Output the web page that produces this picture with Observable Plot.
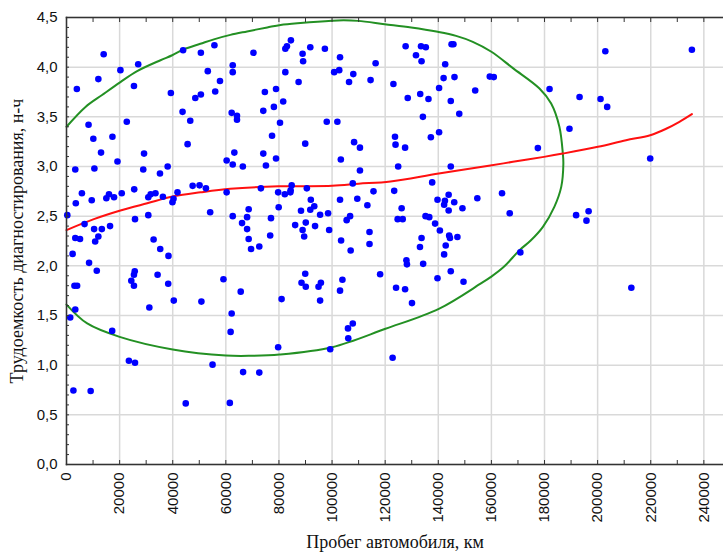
<!DOCTYPE html>
<html><head><meta charset="utf-8">
<script src="https://cdn.jsdelivr.net/npm/d3@7"></script>
<script src="https://cdn.jsdelivr.net/npm/@observablehq/plot@0.6"></script>
<style>
html,body{margin:0;padding:0;background:#fff;}
#chart{width:723px;height:555px;}
</style></head><body><div id="chart"></div>
<script>
// Scatter data: mileage (km) and diagnostic labour (man-hours)
const mileage = [
  300,3900,14000,12000,8300,10100,13000,10500,3300,3500,
  5800,6800,9500,10400,3300,5100,10800,12000,13300,16400,
  15000,16000,17900,20800,17300,19200,20300,22700,25400,27000,
  25500,25800,29200,28900,30800,31700,30800,33500,32800,35200,
  36300,38100,35300,39300,39900,40300,41800,43900,43700,46600,
  45600,47500,48500,50600,50100,50600,52500,53200,54100,55700,
  56000,57800,60300,60300,62600,62600,62200,64200,64200,63200,
  62600,62600,66400,66100,68000,68600,68000,68600,
  2300,3000,4000,3300,1400,2600,9100,8500,11400,17200,
  24400,25400,25700,25400,23500,25800,38400,34300,38300,40400,
  31200,44900,50800,55000,59100,62200,61800,61500,65600,66500,
  69500,72600,70400,74700,78900,74100,78100,81600,80400,82400,
  83000,84500,82400,77400,74100,75100,78900,88900,89100,91800,
  87400,89900,97300,98000,102000,100800,102700,103000,106400,108000,
  108300,110500,103300,110500,116400,114500,84800,73200,79700,82200,
  84400,84300,90500,92000,93300,91800,88300,95500,98500,77000,
  79900,86100,90100,93600,88900,89500,98900,76700,103000,107800,
  109500,113300,115600,105500,106800,103400,114100,114100,107000,123100,
  127700,131600,133700,133500,135300,128500,133200,136300,134200,123700,
  123900,127500,137200,140300,124900,137700,123400,126200,139700,142200,
  142500,143900,143900,146000,149100,154700,124700,126600,135200,136600,
  138800,140600,133700,133100,144400,144100,147200,142800,145000,145700,
  142600,142000,146100,140300,144700,147900,144700,153900,159400,160900,
  164000,166900,177500,181900,189400,193200,201100,203600,202900,235500,
  219800,191900,195800,196600,170900,212700,
  72600,81000,79700,88500,89900,90100,94900,95800,95500,99300,
  103000,103900,106000,106100,107800,118100,122800,124100,127500,128000,
  128200,130100,134300,139700,142200,144700,149500
];
const laborHours = [
  2.51,3.78,4.13,3.88,3.42,3.28,3.14,2.98,2.97,2.63,
  2.73,2.42,2.66,2.37,2.28,2.27,2.245,2.295,2.37,2.40,
  2.68,2.72,2.69,2.73,3.30,3.05,3.97,3.45,3.81,4.03,
  2.77,2.47,3.13,2.97,2.69,2.72,2.51,2.73,2.265,2.93,
  2.695,3.00,2.17,3.74,2.64,2.675,2.74,4.17,3.55,3.46,
  3.225,2.805,3.69,3.725,2.81,4.145,2.78,3.96,2.54,4.22,
  3.755,3.86,3.06,2.74,4.02,3.95,3.54,3.51,3.47,3.14,
  3.02,2.50,3.00,2.43,2.49,2.57,2.37,2.27,
  2.12,1.80,1.80,1.56,1.48,0.745,0.74,2.03,1.95,1.345,
  1.85,1.91,1.945,1.80,1.045,1.025,2.10,1.91,1.82,1.65,
  1.58,0.615,1.64,1.005,1.865,1.52,1.335,0.62,1.74,0.93,
  2.17,2.195,4.145,3.75,3.78,3.56,3.60,3.655,3.44,4.185,
  4.21,4.27,3.95,3.31,3.13,3.01,3.08,4.135,4.06,4.20,
  3.85,3.23,4.185,3.45,3.45,3.95,3.97,4.10,3.85,3.93,
  3.245,3.19,3.07,2.96,4.04,3.87,2.81,2.78,2.74,2.72,
  2.76,2.74,2.78,2.665,2.60,2.565,2.555,2.515,2.53,2.48,
  2.59,2.41,2.435,2.40,2.36,2.295,2.36,2.305,2.665,2.83,
  2.675,2.61,2.75,2.46,2.50,2.255,2.34,2.22,2.155,3.83,
  4.21,4.12,4.06,4.21,4.20,3.69,3.73,3.68,3.50,3.30,
  3.22,3.19,3.295,3.345,3.00,2.84,2.755,2.58,2.665,2.615,
  2.655,2.715,2.557,2.64,2.58,2.68,2.47,2.47,2.50,2.49,
  2.425,2.355,2.28,2.19,2.28,2.305,2.29,2.205,4.23,4.23,
  4.03,3.89,3.90,3.79,3.66,3.53,3.00,3.765,3.905,3.90,
  2.73,2.53,3.185,3.78,3.38,3.70,3.68,3.60,4.16,4.175,
  3.08,2.51,2.455,2.55,2.135,1.78,
  0.925,1.665,1.18,1.83,1.92,1.79,1.79,1.83,1.65,1.16,
  1.75,1.86,1.37,1.27,1.42,1.915,1.075,1.78,1.765,2.055,
  2.015,1.625,2.02,1.875,2.115,1.945,1.84
];

// Smoothed trend (red)
const trendKm = [0,10300,20300,30400,40400,50500,61700,79900,100000,110000,122000,140200,159600,168100,179800,186900,200100,210700,219800,225800,230800,235500];
const trendHours = [2.36,2.47,2.557,2.63,2.70,2.74,2.775,2.80,2.805,2.826,2.85,2.93,3.01,3.047,3.097,3.13,3.198,3.265,3.315,3.38,3.45,3.527];

// Confidence ellipse (green)
const ellipseKm = [0,7150,13400,20300,26600,35400,39800,44200,50400,55500,61700,68000,75600,80600,88100,100000,104400,109800,119800,129800,139800,146700,153000,160000,168100,178100,182500,185600,186900,187100,186300,183700,179400,174800,170600,164700,159700,155900,140200,120100,100000,80200,69300,60000,40000,20000,7800,0];
const ellipseHours = [3.40,3.60,3.72,3.85,3.96,4.07,4.12,4.18,4.235,4.28,4.325,4.36,4.40,4.425,4.445,4.468,4.472,4.466,4.433,4.40,4.356,4.315,4.255,4.155,3.99,3.785,3.634,3.40,3.13,3.03,2.795,2.594,2.393,2.255,2.158,1.99,1.886,1.82,1.567,1.366,1.181,1.107,1.094,1.097,1.158,1.285,1.42,1.61];

// Ticks
const xMajorTicks = [0,20000,40000,60000,80000,100000,120000,140000,160000,180000,200000,220000,240000];
const xMinorTicks = [0,10000,20000,30000,40000,50000,60000,70000,80000,90000,100000,110000,120000,130000,140000,150000,160000,170000,180000,190000,200000,210000,220000,230000,240000];
const yMajorTicks = [0,0.5,1,1.5,2,2.5,3,3.5,4,4.5];
const yMinorTicks = [0,0.1,0.2,0.3,0.4,0.5,0.6,0.7,0.8,0.9,1,1.1,1.2,1.3,1.4,1.5,1.6,1.7,1.8,1.9,2,2.1,2.2,2.3,2.4,2.5,2.6,2.7,2.8,2.9,3,3.1,3.2,3.3,3.4,3.5,3.6,3.7,3.8,3.9,4,4.1,4.2,4.3,4.4,4.5];

const xTitle = "Пробег автомобиля, км";
const yTitle = "Трудоемкость диагностирования, н-ч";

const points = mileage.map((km, i) => ({km, h: laborHours[i]}));
const trend = trendKm.map((km, i) => ({km, h: trendHours[i]}));
const ellipse = ellipseKm.map((km, i) => ({km, h: ellipseHours[i]}));

const axisColor = "#333";
const sans = "'Liberation Sans', Arial, sans-serif";
const serif = "'Liberation Serif', 'Times New Roman', serif";

const chart = Plot.plot({
  width: 723, height: 555,
  marginLeft: 66, marginRight: 0, marginTop: 17, marginBottom: 91,
  style: {fontFamily: sans, background: "#fff", color: "#111"},
  x: {domain: [0, 247400], label: null},
  y: {domain: [0, 4.5], label: null},
  marks: [
    Plot.gridX(xMajorTicks, {stroke: "#d9d9d9", strokeOpacity: 1, strokeWidth: 1.5}),
    Plot.gridY(yMajorTicks, {stroke: "#d9d9d9", strokeOpacity: 1, strokeWidth: 1.5}),
    Plot.line(ellipse, {x: "km", y: "h", curve: "catmull-rom", stroke: "#239023", strokeWidth: 2}),
    Plot.line(trend, {x: "km", y: "h", curve: "catmull-rom", stroke: "#ff1010", strokeWidth: 2}),
    Plot.dot(points, {x: "km", y: "h", r: 3.3, fill: "#0000ff", stroke: "none"}),
    Plot.axisX(xMinorTicks, {anchor: "bottom", tickSize: -4, tickFormat: () => "", stroke: axisColor}),
    Plot.axisX(xMinorTicks, {anchor: "top", tickSize: -4, tickFormat: () => "", stroke: axisColor, label: null}),
    Plot.axisX(xMajorTicks, {anchor: "bottom", tickSize: 0, tickPadding: 8, tickRotate: -90, fontSize: 15, fontFamily: sans, fill: "#111", tickFormat: d => String(d), label: null}),
    Plot.axisY(yMinorTicks, {anchor: "left", tickSize: -3, tickFormat: () => "", stroke: axisColor}),
    Plot.axisY(yMajorTicks, {anchor: "left", tickSize: 0, tickPadding: 9, fontSize: 15, fontFamily: sans, fill: "#111", tickFormat: d => d.toFixed(1).replace(".", ","), label: null}),
    Plot.frame({anchor: "top", stroke: axisColor, strokeWidth: 1.5}),
    Plot.frame({anchor: "left", stroke: axisColor, strokeWidth: 1.5}),
    Plot.frame({anchor: "bottom", stroke: axisColor, strokeWidth: 1.5}),
    Plot.text([xTitle], {text: d => d, frameAnchor: "bottom", textAnchor: "middle", dy: 83, fontSize: 18, fontFamily: serif, fill: "#111"}),
    Plot.text([yTitle], {text: d => d, frameAnchor: "left", textAnchor: "middle", dx: -49, rotate: -90, fontSize: 18, fontFamily: serif, fill: "#111"})
  ]
});
document.getElementById("chart").appendChild(chart);
</script>
</body></html>
